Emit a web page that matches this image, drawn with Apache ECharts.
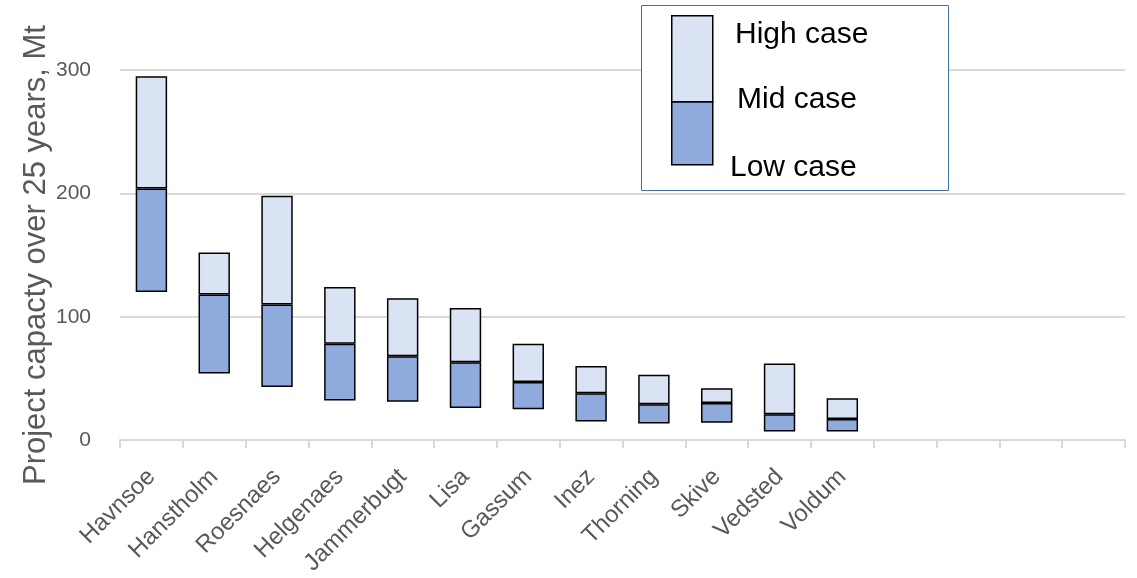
<!DOCTYPE html>
<html><head><meta charset="utf-8">
<script src="https://cdn.jsdelivr.net/npm/echarts@6/dist/echarts.min.js"></script>
<style>html,body{margin:0;padding:0;background:#fff}#c{width:1137px;height:578px}</style>
</head><body><div id="c"></div>
<script>
const sites = ['Havnsoe','Hanstholm','Roesnaes','Helgenaes','Jammerbugt','Lisa','Gassum','Inez','Thorning','Skive','Vedsted','Voldum'];
const emptySlots = 4;
const lowCase  = [120, 54, 43, 32, 31, 26, 25, 15, 13.5, 14, 7, 7];
const midCase  = [204, 118, 110, 78, 68, 63, 47, 38, 29, 30, 21, 17];
const highCase = [295, 152, 198, 124, 115, 107, 78, 60, 53, 42, 62, 34];
const yTicks = [0, 100, 200, 300];
const legendLabels = ['High case', 'Mid case', 'Low case'];

const categories = sites.slice();
for (let i = 0; i < emptySlots; i++) categories.push(' '.repeat(i + 1));
const base = lowCase.slice();
const midPart = midCase.map((v, i) => v - lowCase[i]);
const highPart = highCase.map((v, i) => v - midCase[i]);

const DARK = '#8FAADC', LIGHT = '#DAE3F3', GREY = '#595959';
const chart = echarts.init(document.getElementById('c'), null, {renderer: 'canvas'});
chart.setOption({
  animation: false,
  grid: {left: 120, right: 12, top: 70, bottom: 137},
  xAxis: {
    type: 'category', data: categories,
    axisLine: {lineStyle: {color: '#d9d9d9', width: 2}},
    axisTick: {show: true, length: 8, lineStyle: {color: '#d9d9d9', width: 2}},
    axisLabel: {rotate: 45, color: GREY, fontSize: 24, fontFamily: 'Liberation Sans', margin: 33, interval: 0}
  },
  yAxis: {
    type: 'value', min: yTicks[0], max: yTicks[yTicks.length - 1], interval: 100,
    name: 'Project capacty over 25 years, Mt', nameLocation: 'middle', nameGap: 68,
    nameMoveOverlap: false,
    nameTextStyle: {color: GREY, fontSize: 31, fontFamily: 'Liberation Sans'},
    axisLine: {show: false}, axisTick: {show: false},
    axisLabel: {color: GREY, fontSize: 21, fontFamily: 'Liberation Sans', margin: 29},
    splitLine: {lineStyle: {color: '#d9d9d9', width: 2}}
  },
  series: [
    {type: 'bar', stack: 's', data: base, barWidth: '50%', itemStyle: {color: 'transparent'}, silent: true},
    {type: 'bar', stack: 's', data: midPart, barWidth: '50%', itemStyle: {color: DARK, borderColor: '#000', borderWidth: 1.5}},
    {type: 'bar', stack: 's', data: highPart, barWidth: '50%', itemStyle: {color: LIGHT, borderColor: '#000', borderWidth: 1.5}}
  ],
  graphic: [
    {type: 'rect', left: 641, top: 5, shape: {width: 307, height: 185}, style: {fill: '#fff', stroke: '#41719C', lineWidth: 1}, z: 10},
    {type: 'rect', left: 671, top: 101, shape: {width: 41, height: 63}, style: {fill: DARK, stroke: '#000', lineWidth: 1.5}, z: 11},
    {type: 'rect', left: 671, top: 15, shape: {width: 41, height: 86}, style: {fill: LIGHT, stroke: '#000', lineWidth: 1.5}, z: 11},
    {type: 'text', left: 735, top: 20, style: {text: legendLabels[0], fontSize: 30, fontFamily: 'Liberation Sans', fill: '#000'}, z: 11},
    {type: 'text', left: 737, top: 85, style: {text: legendLabels[1], fontSize: 30, fontFamily: 'Liberation Sans', fill: '#000'}, z: 11},
    {type: 'text', left: 730, top: 153, style: {text: legendLabels[2], fontSize: 30, fontFamily: 'Liberation Sans', fill: '#000'}, z: 11}
  ]
});
</script></body></html>
